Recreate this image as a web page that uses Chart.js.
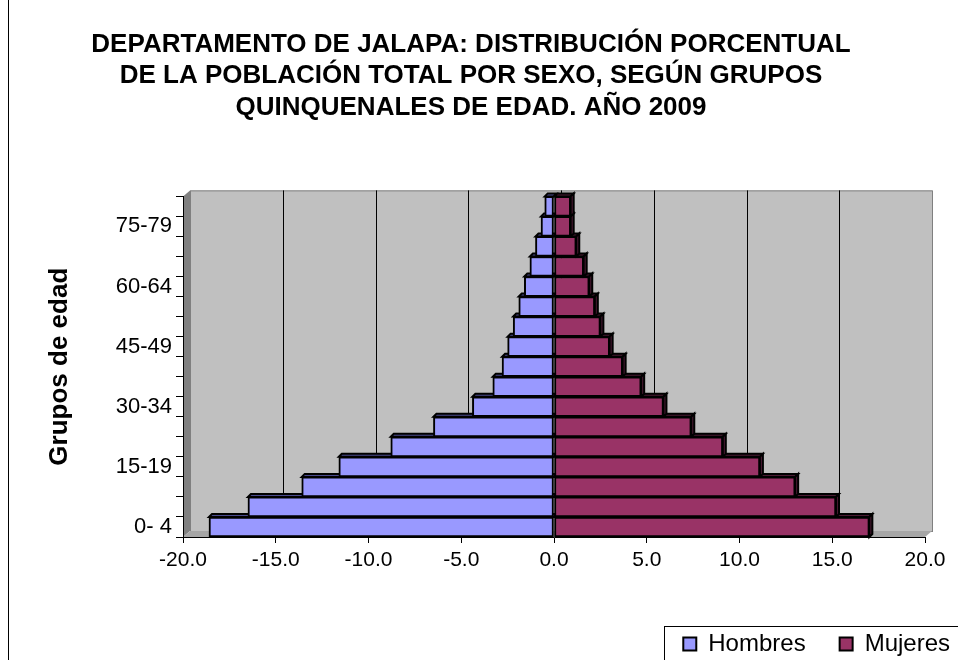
<!DOCTYPE html>
<html>
<head>
<meta charset="utf-8">
<script src="https://cdn.jsdelivr.net/npm/chart.js@4"></script>
<style>
  body { margin: 0; background: #fff; }
  canvas { display: block; }
</style>
</head>
<body>
<canvas id="pyramid-jalapa" width="958" height="660"></canvas>
<script>
// DATA
const grupos = ['0- 4', '5- 9', '10-14', '15-19', '20-24', '25-29', '30-34', '35-39', '40-44',
    '45-49', '50-54', '55-59', '60-64', '65-69', '70-74', '75-79', '80 y más'];
const hombres = [-18.6, -16.5, -13.6, -11.6, -8.8, -6.5, -4.4, -3.3, -2.8, -2.5, -2.2, -1.9, -1.6, -1.3, -1.0, -0.7, -0.5];
const mujeres = [17.0, 15.2, 13.0, 11.1, 9.1, 7.4, 5.9, 4.7, 3.7, 3.0, 2.5, 2.2, 1.9, 1.6, 1.2, 0.9, 0.9];
const tituloLineas = ['DEPARTAMENTO DE JALAPA: DISTRIBUCIÓN PORCENTUAL',
    'DE LA POBLACIÓN TOTAL POR SEXO, SEGÚN GRUPOS',
    'QUINQUENALES DE EDAD. AÑO 2009'];
const xMin = -20, xMax = 20, xStep = 5;

const FONT = '"Liberation Sans", Arial, sans-serif';
const WALL_DX = 7, WALL_DY = -6;   // back wall offset (fake 3d)
const BAR_D = 3;                   // bar depth

// walls + gridlines behind everything
const walls = {
    id: 'walls',
    beforeDraw(chart) {
        const ctx = chart.ctx;
        const a = chart.chartArea;
        ctx.save();
        ctx.fillStyle = '#fff';
        ctx.fillRect(0, 0, chart.width, chart.height);
        // outer border (left edge only visible)
        ctx.strokeStyle = '#000';
        ctx.lineWidth = 1;
        ctx.beginPath();
        ctx.moveTo(8.5, 0);
        ctx.lineTo(8.5, chart.height);
        ctx.stroke();
        // back wall
        ctx.fillStyle = '#C0C0C0';
        ctx.strokeStyle = '#808080';
        ctx.fillRect(a.left + WALL_DX, a.top + WALL_DY, a.right - a.left, a.bottom - a.top);
        ctx.strokeRect(a.left + WALL_DX + 0.5, a.top + WALL_DY + 0.5, a.right - a.left, a.bottom - a.top);
        // side wall
        ctx.fillStyle = '#808080';
        ctx.beginPath();
        ctx.moveTo(a.left, a.top);
        ctx.lineTo(a.left + WALL_DX, a.top + WALL_DY);
        ctx.lineTo(a.left + WALL_DX, a.bottom + WALL_DY);
        ctx.lineTo(a.left, a.bottom);
        ctx.closePath();
        ctx.fill();
        // floor
        ctx.fillStyle = '#A6A6A6';
        ctx.beginPath();
        ctx.moveTo(a.left, a.bottom);
        ctx.lineTo(a.left + WALL_DX, a.bottom + WALL_DY);
        ctx.lineTo(a.right + WALL_DX, a.bottom + WALL_DY);
        ctx.lineTo(a.right, a.bottom);
        ctx.closePath();
        ctx.fill();
        // gridlines on the back wall
        const xs = chart.scales.x;
        ctx.strokeStyle = '#000';
        ctx.lineWidth = 1;
        xs.ticks.forEach(t => {
            if (t.value <= xMin || t.value >= xMax) return;
            const px = Math.round(xs.getPixelForValue(t.value) + WALL_DX) + 0.5;
            ctx.beginPath();
            ctx.moveTo(px, a.top + WALL_DY);
            ctx.lineTo(px, a.bottom + WALL_DY);
            ctx.stroke();
        });
        ctx.restore();
    }
};

// top / end faces of the bars, drawn before the front faces
const barFaces = {
    id: 'barFaces',
    beforeDatasetsDraw(chart) {
        const ctx = chart.ctx;
        const dark = ['#4A4A8C', '#4A1A33'];
        ctx.save();
        ctx.strokeStyle = '#000';
        ctx.lineWidth = 2;
        chart.data.datasets.forEach((ds, di) => {
            chart.getDatasetMeta(di).data.forEach(el => {
                const p = el.getProps(['x', 'y', 'base', 'height'], true);
                const top = p.y - p.height / 2, bottom = p.y + p.height / 2;
                const lo = Math.min(p.x, p.base), hi = Math.max(p.x, p.base);
                ctx.fillStyle = dark[di];
                ctx.beginPath();
                ctx.moveTo(lo, top);
                ctx.lineTo(hi, top);
                ctx.lineTo(hi + BAR_D, top - BAR_D);
                ctx.lineTo(lo + BAR_D, top - BAR_D);
                ctx.closePath();
                ctx.fill();
                ctx.stroke();
                if (di === 1) {
                    ctx.beginPath();
                    ctx.moveTo(hi, top);
                    ctx.lineTo(hi + BAR_D, top - BAR_D);
                    ctx.lineTo(hi + BAR_D, bottom - BAR_D);
                    ctx.lineTo(hi, bottom);
                    ctx.closePath();
                    ctx.fill();
                    ctx.stroke();
                }
            });
        });
        ctx.restore();
    }
};

// legend sits at the bottom right corner, inside a box
const legendBox = {
    id: 'legendBox',
    afterLayout(chart) {
        const lg = chart.legend;
        lg.left += 59; lg.right += 59;
        lg.top += 6; lg.bottom += 6;
    },
    afterDraw(chart) {
        const lg = chart.legend;
        const ctx = chart.ctx;
        const pad = lg.options.labels.padding;
        const cy = lg.top + pad + 12;
        const left = lg.right - lg.lineWidths[0] - 19;
        ctx.save();
        ctx.strokeStyle = '#000';
        ctx.lineWidth = 1;
        ctx.strokeRect(Math.round(left) + 0.5, Math.round(cy - 18) + 0.5, 400, 100);
        ctx.restore();
    }
};

const ctxP = document.getElementById('pyramid-jalapa');
const Piramide = new Chart(ctxP, {
    type: 'bar',
    data: {
        labels: grupos,
        datasets: [{
            label: 'Hombres',
            data: hombres,
            backgroundColor: '#9999FF',
            borderColor: '#000',
            borderWidth: 2,
            borderSkipped: false,
            barPercentage: 1,
            categoryPercentage: 1,
        }, {
            label: 'Mujeres',
            data: mujeres,
            backgroundColor: '#993366',
            borderColor: '#000',
            borderWidth: 2,
            borderSkipped: false,
            barPercentage: 1,
            categoryPercentage: 1,
        }]
    },
    options: {
        indexAxis: 'y',
        responsive: false,
        animation: false,
        devicePixelRatio: 1,
        layout: { padding: { left: 17, right: 33, top: 0, bottom: 0 } },
        plugins: {
            title: {
                display: true,
                text: tituloLineas,
                color: '#000',
                font: { family: FONT, size: 26, weight: 'bold', lineHeight: 1.21 },
                padding: { top: 29, bottom: 73 }
            },
            legend: {
                position: 'bottom',
                align: 'end',
                labels: {
                    color: '#000',
                    font: { family: FONT, size: 24 },
                    boxWidth: 13,
                    boxHeight: 13,
                    padding: 34
                }
            },
            tooltip: { enabled: false }
        },
        scales: {
            x: {
                stacked: true,
                min: xMin,
                max: xMax,
                ticks: {
                    stepSize: xStep,
                    color: '#000',
                    font: { family: FONT, size: 21 },
                    padding: 5,
                    maxRotation: 0,
                    callback: v => v.toFixed(1)
                },
                grid: { drawOnChartArea: false, drawTicks: true, tickLength: 6, color: '#000' },
                border: { display: true, color: '#000' },
                afterFit: s => { s.height = 55; }
            },
            y: {
                stacked: true,
                reverse: true,
                ticks: {
                    autoSkip: false,
                    color: '#000',
                    font: { family: FONT, size: 22 },
                    padding: 4,
                    callback: function (v, i) { return i % 3 === 0 ? this.getLabelForValue(v) : ''; }
                },
                grid: { drawOnChartArea: false, drawTicks: true, tickLength: 7, color: '#000' },
                border: { display: true, color: '#000' },
                title: {
                    display: true,
                    text: 'Grupos de edad',
                    color: '#000',
                    font: { family: FONT, size: 26, weight: 'bold', lineHeight: 1.2 },
                    padding: { top: 27, bottom: 0 }
                },
                afterFit: s => { s.width = 166; }
            }
        }
    },
    plugins: [walls, barFaces, legendBox]
});
</script>
</body>
</html>
